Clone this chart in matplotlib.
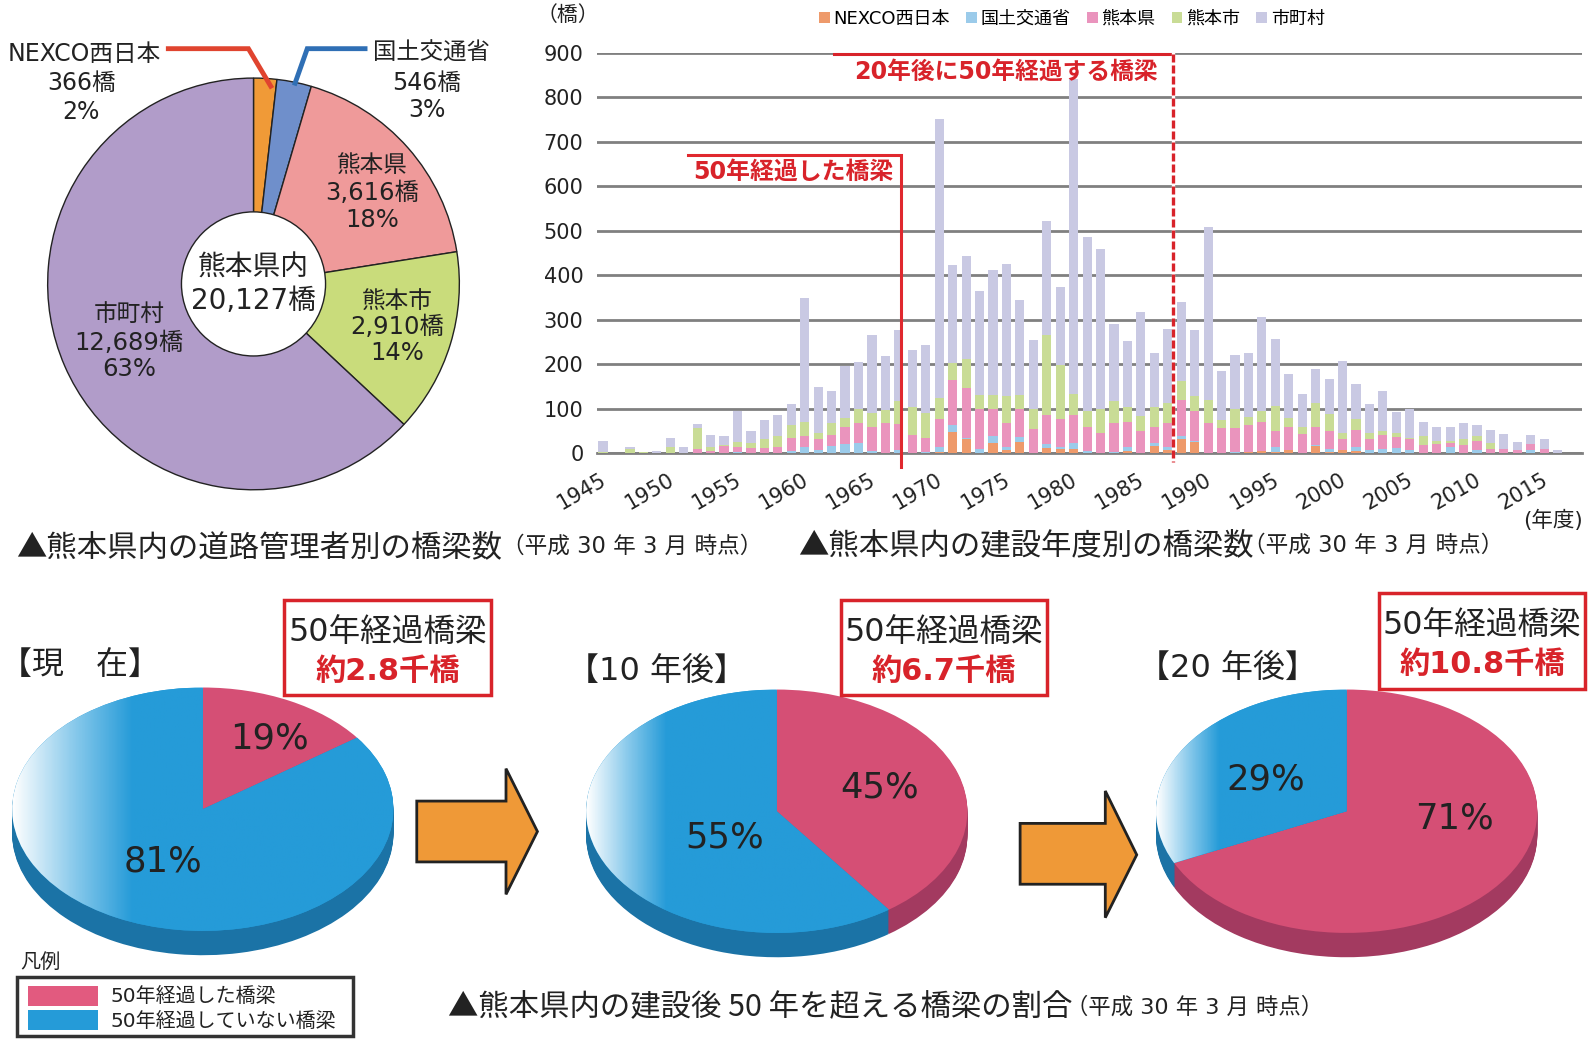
import numpy as np
import matplotlib
matplotlib.use('Agg')
import matplotlib.pyplot as plt
from matplotlib.colors import LinearSegmentedColormap
from matplotlib.patches import Rectangle, Polygon
from matplotlib.transforms import ScaledTranslation

plt.rcParams['font.family'] = ['DejaVu Sans', 'Noto Sans CJK JP']
CJK_FIRST = ['Noto Sans CJK JP', 'DejaVu Sans']

# 管理者別 (pie)
owner_names = ['NEXCO西日本', '国土交通省', '熊本県', '熊本市', '市町村']
owner_counts = [366, 546, 3616, 2910, 12689]
owner_colors = ['#f09a37', '#6f8fcb', '#ef9a9a', '#c9dc7b', '#b19cc9']

# 建設年度別 (stacked bars)
years = list(range(1945, 2017))
nexco = [0, 0, 0, 0, 0, 0, 0, 0, 0, 0, 0, 0, 0, 0, 0, 0, 0, 0, 0, 0, 0, 0, 0, 0, 0,
         3, 47, 31, 0, 23, 7, 25, 0, 11, 10, 9, 0, 0, 0, 4, 0, 17, 8, 33, 25, 0, 0, 0,
         3, 4, 3, 7, 0, 16, 3, 7, 4, 0, 0, 0, 0, 0, 0, 0, 0, 0, 0, 0, 0, 0, 0, 0]
kokudo = [0, 0, 0, 0, 0, 0, 0, 0, 0, 0, 3, 0, 0, 0, 4, 13, 8, 16, 20, 22, 5, 0, 7, 0, 3,
          10, 17, 4, 9, 16, 6, 11, 0, 9, 5, 14, 4, 0, 3, 9, 0, 5, 5, 5, 3, 0, 0, 3,
          0, 0, 10, 0, 0, 3, 6, 0, 9, 8, 10, 12, 8, 0, 0, 13, 0, 8, 0, 0, 0, 8, 0, 0]
kumamoto_ken = [0, 0, 0, 0, 0, 0, 0, 9, 4, 17, 12, 11, 11, 15, 31, 26, 23, 26, 38, 45, 53, 67, 59, 40, 31,
                64, 100, 111, 90, 61, 54, 64, 54, 65, 61, 62, 54, 45, 64, 57, 49, 36, 54, 81, 66, 67, 57, 54,
                61, 66, 37, 51, 43, 40, 41, 24, 39, 24, 32, 24, 23, 18, 20, 9, 18, 20, 9, 9, 7, 12, 9, 0]
kumamoto_shi = [3, 0, 9, 3, 0, 13, 0, 47, 11, 1, 11, 11, 21, 24, 29, 31, 15, 26, 22, 33, 33, 31, 52, 63, 56,
                48, 38, 65, 31, 30, 62, 31, 45, 181, 122, 49, 36, 55, 51, 33, 35, 45, 45, 44, 35, 53, 18, 43,
                18, 24, 56, 22, 15, 53, 39, 15, 24, 14, 7, 10, 3, 21, 8, 6, 13, 11, 13, 0, 0, 0, 0, 0]
shichoson = [25, 0, 4, 0, 4, 22, 13, 9, 27, 21, 68, 28, 43, 48, 46, 280, 103, 73, 116, 104, 175, 120, 159, 128, 153,
             627, 221, 232, 234, 282, 296, 213, 156, 256, 175, 706, 391, 360, 172, 150, 233, 123, 168, 176, 147, 388, 109, 120,
             143, 212, 150, 97, 76, 77, 77, 161, 79, 64, 91, 46, 66, 32, 31, 31, 36, 25, 31, 34, 19, 20, 22, 7]
series_names = ['NEXCO西日本', '国土交通省', '熊本県', '熊本市', '市町村']
series_values = [nexco, kokudo, kumamoto_ken, kumamoto_shi, shichoson]
series_colors = ['#ee9a6b', '#9bcbea', '#ea94bd', '#c9dc96', '#c9c9e3']

# 50年経過の割合。表示の%と、斜めから見た円で見た目に占める割合 (原図は傾いていて数値より小さく見える)
share_labels = [('19%', '81%'), ('45%', '55%'), ('71%', '29%')]
drawn_shares = [(15, 85), (40, 60), (68, 32)]
periods = ['【現　在】', '【10 年後】', '【20 年後】']
counts_text = ['約2.8千橋', '約6.7千橋', '約10.8千橋']

W, H = 1568, 1033.5  # working coordinates


def axes_px(x0, y0, x1, y1, **kw):
    return fig.add_axes([x0 / W, 1 - y1 / H, (x1 - x0) / W, (y1 - y0) / H], **kw)


fig = plt.figure(figsize=(15.9, 10.48), dpi=100)

# ---- 円グラフ
ax_pie = axes_px(40, 70, 460, 490)
wedges, _ = ax_pie.pie(owner_counts, colors=owner_colors, startangle=90, counterclock=False,
                       radius=1, wedgeprops={'edgecolor': '#222222', 'linewidth': 1.0})
ax_pie.add_patch(plt.Circle((0, 0), 0.35, facecolor='white', edgecolor='#222222', linewidth=1.0, zorder=5))
ax_pie.set_xlim(-210 / 203, 210 / 203)
ax_pie.set_ylim(-210 / 203, 210 / 203)

# ---- 積み上げ棒
ax = axes_px(589, 52, 1560, 447)
bottom = np.zeros(len(years))
for name, vals, col in zip(series_names, series_values, series_colors):
    ax.bar(years, vals, width=0.68, bottom=bottom, color=col, label=name, zorder=3)
    bottom += np.array(vals)
ax.set_xlim(1944.57, 2017.8)
ax.set_ylim(0, 900)
ax.set_yticks(range(0, 901, 100))
ax.set_xticks(range(1945, 2016, 5))
ax.grid(axis='y', color='#808080', linewidth=2, zorder=1)
ax.set_axisbelow(True)
for s in ['top', 'right', 'left']:
    ax.spines[s].set_visible(False)
ax.spines['bottom'].set_color('#808080')
ax.spines['bottom'].set_linewidth(2)
ax.tick_params(axis='both', length=0)
ax.tick_params(axis='y', labelsize=15, pad=10, labelcolor='#222222')
ax.tick_params(axis='x', labelsize=15, pad=12, labelcolor='#222222')
shift = ScaledTranslation(-3 / 100, 0, fig.dpi_scale_trans)
for lab in ax.get_xticklabels():
    lab.set_rotation(30)
    lab.set_ha('right')
    lab.set_rotation_mode('anchor')
    lab.set_transform(lab.get_transform() + shift)
ax.legend(loc='lower left', bbox_to_anchor=(0.216, 1.04), ncol=5, frameon=False, fontsize=13,
          handlelength=0.6, handleheight=0.6, handletextpad=0.2, columnspacing=0.9, borderpad=0)

# ---- 3D風の円
grad_ends = [0.63, 0.42, 0.33]
pie_centers = [(200, 798), (766, 800), (1328, 800)]
rx, ry, depth = 188, 120, 24
cm = LinearSegmentedColormap.from_list('g', ['#ffffff', '#8ccbec', '#259bd8'])
for i, (cx, cy) in enumerate(pie_centers):
    a = axes_px(cx - rx, cy - ry, cx + rx, cy + ry + depth + 2)
    for off in np.linspace(depth / ry, 0.01, 24):
        a.pie(drawn_shares[i], colors=['#a33a60', '#1b73a6'], startangle=90, counterclock=False,
              center=(0, -off), wedgeprops={'linewidth': 0})
    top, _ = a.pie(drawn_shares[i], colors=['#d54f75', '#259bd8'], startangle=90, counterclock=False,
                   wedgeprops={'linewidth': 0})
    grad = np.clip((np.linspace(-1, 1, 256) + 1) / grad_ends[i], 0, 1).reshape(1, -1)
    im = a.imshow(grad, extent=(-1, 1, -1, 1), cmap=cm, vmin=0, vmax=1, aspect='auto', zorder=3)
    im.set_clip_path(top[1])
    a.set_aspect('auto')
    a.set_xlim(-1, 1)
    a.set_ylim(-1 - (depth + 2) / ry, 1)
    a.axis('off')

# ---- 注記はすべて重ねた軸に
ov = fig.add_axes([0, 0, 1, 1], facecolor='none')
ov.set_xlim(0, W)
ov.set_ylim(H, 0)
ov.axis('off')
DARK = '#222222'
RED = '#d8232a'


def t(x, y, s, size=17, ha='center', color=DARK, **kw):
    ov.text(x, y, s, fontsize=size, ha=ha, va='center', color=color, **kw)


# 円グラフのラベル
t(83, 53, 'NEXCO西日本', 17)
t(80, 82, '366橋', 17)
t(80, 110, '2%', 17)
t(425, 53, '国土交通省', 16.8)
t(421, 82, '546橋', 17)
t(421, 108, '3%', 17)
ov.plot([166, 245, 267], [48, 48, 85], color='#e0442f', lw=3.5, solid_joinstyle='miter')
ov.plot([360, 303, 291], [48, 48, 82], color='#2f6fb5', lw=3.5, solid_joinstyle='miter')
t(367, 163, '熊本県', 17)
t(367, 190, '3,616橋', 17.5)
t(367, 217, '18%', 17.5)
t(392, 297, '熊本市', 17)
t(392, 322, '2,910橋', 17.5)
t(392, 348, '14%', 17.5)
t(127, 310, '市町村', 17)
t(127, 338, '12,689橋', 17.5)
t(127, 364, '63%', 17.5)
t(250, 264, '熊本県内', 20)
t(250, 297, '20,127橋', 20)

# 棒グラフの注記
t(560, 15, '（橋）', 15)
t(1532, 513, '(年度)', 15.5)
ov.plot([678, 889, 889], [153, 153, 461], color='#e0282e', lw=2.2, solid_joinstyle='miter')
ov.plot([822, 1157], [53, 53], color='#d8232a', lw=2.2)
ov.plot([1157, 1157], [53, 456], color='white', lw=2.4)
ov.plot([1157, 1157], [53, 456], color='#d8232a', lw=2.4, dashes=(2.4, 0.9))
t(782, 169, '50年経過した橋梁', 17.2, color=RED, fontweight='bold')
t(992, 71, '20年後に50年経過する橋梁', 17.1, color=RED, fontweight='bold')

# 見出し
t(16, 540, '▲熊本県内の道路管理者別の橋梁数', 21.9, ha='left', family=CJK_FIRST)
t(495, 539, '（平成 30 年 3 月 時点）', 16.3, ha='left')
t(787, 538, '▲熊本県内の建設年度別の橋梁数', 21.9, ha='left', family=CJK_FIRST)
t(1226, 538, '（平成 30 年 3 月 時点）', 16.3, ha='left')
t(442, 994, '▲熊本県内の建設後 50 年を超える橋梁の割合', 21.9, ha='left', family=CJK_FIRST)
t(1051, 993, '（平成 30 年 3 月 時点）', 16.1, ha='left')

# 3D円の注記
t(0, 657, periods[0], 23, ha='left')
t(559, 662, periods[1], 23, ha='left')
t(1122, 659, periods[2], 23, ha='left')
label_pos = [((266, 728), (161, 850)), ((867, 777), (715, 826)), ((1434, 807), (1248, 769))]
for labs, pos in zip(share_labels, label_pos):
    for s, (x, y) in zip(labs, pos):
        t(x, y, s, 25.5)
box_pos = [(280, 592, 484, 685), (829, 592, 1033, 685), (1360, 585, 1563, 679)]
for (x0, y0, x1, y1), s in zip(box_pos, counts_text):
    ov.add_patch(Rectangle((x0, y0), x1 - x0, y1 - y0, fill=False, edgecolor=RED, lw=2.5))
    t((x0 + x1) / 2, y0 + 32, '50年経過橋梁', 22.8)
    t((x0 + x1) / 2, y0 + 70, s, 21.8, color=RED, fontweight='bold')

# 矢印
ov.add_patch(Polygon([(411, 790), (499, 790), (499, 758), (530, 820), (499, 882), (499, 850), (411, 850)],
                     facecolor='#ef9937', edgecolor='#222222', lw=2))
ov.add_patch(Polygon([(1006, 812), (1090, 812), (1090, 780), (1121, 843), (1090, 905), (1090, 872), (1006, 872)],
                     facecolor='#ef9937', edgecolor='#222222', lw=2))

# 凡例
t(20, 949, '凡例', 14.5, ha='left')
ov.add_patch(Rectangle((17, 963), 331, 59, facecolor='white', edgecolor='#333333', lw=2.5))
ov.add_patch(Rectangle((28, 972), 69, 20, facecolor='#e25a7f', edgecolor='none'))
ov.add_patch(Rectangle((28, 996), 69, 20, facecolor='#259bd8', edgecolor='none'))
t(109, 983, '50年経過した橋梁', 14.4, ha='left')
t(109, 1007, '50年経過していない橋梁', 14.4, ha='left')

fig.savefig('out.png', dpi=100)
